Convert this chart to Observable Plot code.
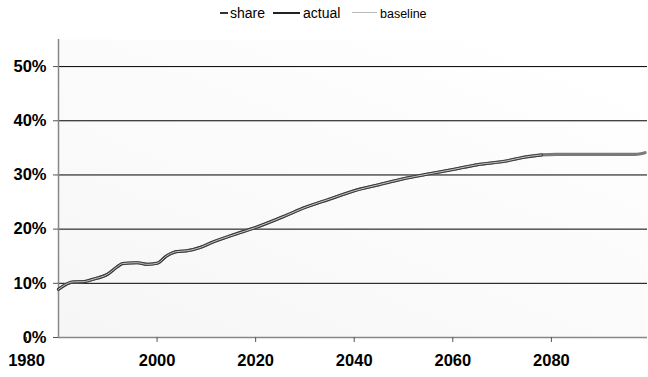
<!DOCTYPE html>
<html>
<head>
<meta charset="utf-8">
<script src="https://cdn.jsdelivr.net/npm/d3@7"></script>
<script src="https://cdn.jsdelivr.net/npm/@observablehq/plot@0.6"></script>
<style>
  html, body { margin: 0; padding: 0; background: #fff; }
  #wrap { width: 648px; height: 377px; font-family: "Liberation Sans", Arial, sans-serif; }
  #legend { position: relative; height: 26px; }
  #legend .swatch { position: absolute; top: 12px; height: 0; }
  #legend .label { position: absolute; top: 5px; line-height: 16px; font-size: 14px; color: #000; white-space: nowrap; }
  #legend .label.small { font-size: 12.5px; top: 6px; }
</style>
</head>
<body>
<div id="wrap">
  <div id="legend"></div>
  <div id="chart"></div>
</div>
<script>
// Share series, read at irregular years
const years = [1980, 1983, 1985, 1987, 1990, 1992, 1993, 1996, 1998, 2000, 2002, 2004, 2006, 2009, 2011, 2016, 2020, 2026, 2030, 2035, 2040, 2045, 2050, 2055, 2060, 2065, 2071, 2074, 2078, 2081, 2090, 2097, 2099];
const shareValues = [0.089, 0.1026, 0.103, 0.1075, 0.117, 0.131, 0.1365, 0.138, 0.135, 0.137, 0.151, 0.1586, 0.160, 0.167, 0.175, 0.191, 0.203, 0.2246, 0.240, 0.2554, 0.2708, 0.282, 0.293, 0.3017, 0.310, 0.319, 0.326, 0.332, 0.337, 0.338, 0.338, 0.338, 0.341];
// Actual and baseline follow the share series up to 2078
const lastActualYear = 2078;
const yTicks = [0, 0.1, 0.2, 0.3, 0.4, 0.5];
const xTicks = [2000, 2020, 2040, 2060, 2080];
const firstYear = 1980;

const shareData = years.map((year, i) => ({year, value: shareValues[i]}));
const actualData = shareData.filter(d => d.year <= lastActualYear);
const baselineData = actualData;

const series = [
  {name: "share", color: "#7a7a7a", width: 3.2},
  {name: "actual", color: "#3a3a3a", width: 3},
  {name: "baseline", color: "#c8c8c8", width: 1}
];

// Legend: swatch then label for each series
const legendLayout = [
  {swatchX: 220, swatchW: 8, swatchColor: "#333", swatchH: 2, textX: 230, small: false},
  {swatchX: 273, swatchW: 27, swatchColor: "#222", swatchH: 2, textX: 303, small: false},
  {swatchX: 352, swatchW: 25, swatchColor: "#bbb", swatchH: 1, textX: 380, small: true}
];
const legend = d3.select("#legend");
series.forEach((s, i) => {
  const L = legendLayout[i];
  legend.append("span").attr("class", "swatch")
    .style("left", L.swatchX + "px").style("width", L.swatchW + "px")
    .style("border-top", `${L.swatchH}px solid ${L.swatchColor}`);
  legend.append("span").attr("class", "label" + (L.small ? " small" : ""))
    .style("left", L.textX + "px").text(s.name);
});

const pct = d => Math.round(d * 100) + "%";
const tickFont = 16.5;

const chart = Plot.plot({
  width: 648,
  height: 351,
  marginTop: 13,
  marginLeft: 58,
  marginRight: 1,
  marginBottom: 40,
  style: {fontFamily: "'Liberation Sans', Arial, sans-serif", background: "transparent"},
  x: {domain: [1980, 2099.5], label: null},
  y: {domain: [0, 0.55], label: null},
  marks: [
    Plot.frame({fill: "url(#plotBg)", stroke: null}),
    Plot.ruleY(yTicks.filter(d => d > 0), {stroke: "#000", strokeWidth: 1}),
    Plot.ruleY([0], {stroke: "#888", strokeWidth: 1.5}),
    Plot.ruleX([firstYear], {stroke: "#888", strokeWidth: 1.5}),
    Plot.axisY({ticks: yTicks, tickSize: 5, tickPadding: 7, stroke: "#555",
      tickFormat: pct, fontSize: tickFont, fontWeight: "bold", fill: "#000", label: null}),
    Plot.axisX({ticks: xTicks, tickSize: 5, tickPadding: 12, stroke: "#555",
      tickFormat: d => String(d), fontSize: tickFont, fontWeight: "bold", fill: "#000", label: null}),
    // the first year's label sits left of its tick
    Plot.axisX({ticks: [firstYear], tickSize: 5, tickPadding: 12, stroke: "#555", dx: -32,
      tickFormat: d => String(d), fontSize: tickFont, fontWeight: "bold", fill: "#000", label: null}),
    Plot.line(shareData, {x: "year", y: "value", stroke: series[0].color, strokeWidth: series[0].width, curve: "monotone-x"}),
    Plot.line(actualData, {x: "year", y: "value", stroke: series[1].color, strokeWidth: series[1].width, curve: "monotone-x"}),
    Plot.line(baselineData, {x: "year", y: "value", stroke: series[2].color, strokeWidth: series[2].width, curve: "monotone-x"})
  ]
});

// Soft plot-area shading: light grey at the lower left fading to white
const svg = d3.select(chart);
const defs = svg.insert("defs", ":first-child");
const grad = defs.append("linearGradient").attr("id", "plotBg")
  .attr("x1", "0").attr("y1", "1").attr("x2", "0.8").attr("y2", "0");
grad.append("stop").attr("offset", "0").attr("stop-color", "#f6f6f6");
grad.append("stop").attr("offset", "1").attr("stop-color", "#ffffff");

document.getElementById("chart").appendChild(chart);
</script>
</body>
</html>
